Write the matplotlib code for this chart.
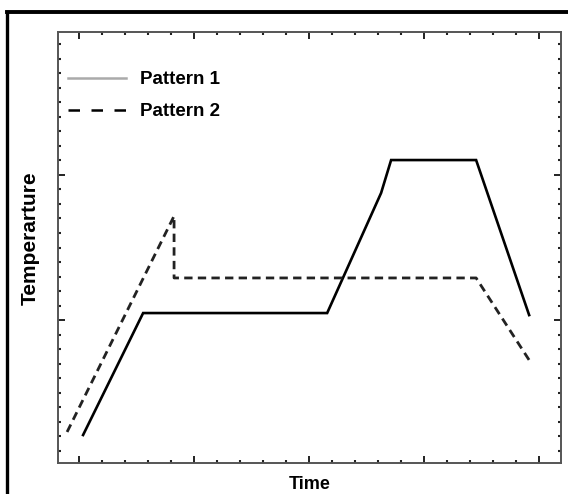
# plot.py - temperature patterns over time

# 1. Imports
import matplotlib
matplotlib.use("Agg")
import matplotlib.pyplot as plt
from matplotlib.lines import Line2D
from matplotlib.ticker import MultipleLocator

# 2. Data (arbitrary units)
pattern1_time = [0.035, 0.557, 2.157, 2.626, 2.713, 3.452, 3.913]
pattern1_temp = [0.207, 1.048, 1.048, 1.876, 2.103, 2.103, 1.034]

pattern2_time = [-0.104, 0.826, 0.826, 3.452, 3.913]
pattern2_temp = [0.228, 1.717, 1.290, 1.290, 0.724]

series_labels = ["Pattern 1", "Pattern 2"]

# 3. Figure setup
plt.rcParams["font.family"] = ["Liberation Sans", "DejaVu Sans"]
plt.rcParams["font.weight"] = "bold"

fig = plt.figure(figsize=(5.68, 4.94), dpi=100)
ax = fig.add_axes([58 / 568, 31 / 494, 503 / 568, 431 / 494])

# 4. Lines
ax.plot(pattern1_time, pattern1_temp, color="black", lw=1.9, solid_joinstyle="miter")
ax.plot(pattern2_time, pattern2_temp, color="#222222", lw=2.0, dashes=[3.0, 1.9])

# 5. Axes look
ax.set_xlim(-0.183, 4.19)
ax.set_ylim(0.014, 2.986)
ax.xaxis.set_major_locator(MultipleLocator(1))
ax.xaxis.set_minor_locator(MultipleLocator(0.2))
ax.yaxis.set_major_locator(MultipleLocator(1))
ax.yaxis.set_minor_locator(MultipleLocator(0.1))
ax.tick_params(which="both", direction="in", top=True, right=True,
               labelbottom=False, labelleft=False, color="#222222")
ax.tick_params(which="major", length=5, width=1.4)
ax.tick_params(which="minor", length=2.2, width=1.5)
for sp in ax.spines.values():
    sp.set_linewidth(1.4)
    sp.set_color("#555555")

ax.set_xlabel("Time", fontsize=13, fontweight="bold", labelpad=9)
ax.set_ylabel("Temperarture", fontsize=15, fontweight="bold")
ax.yaxis.set_label_coords(-0.037, 0.522)

# 6. Legend (first handle is drawn gray in the original)
handles = [
    Line2D([], [], color="#aaaaaa", lw=1.8),
    Line2D([], [], color="black", lw=1.8, dashes=[4.6, 4.6]),
]
ax.legend(handles, series_labels, loc="upper left", bbox_to_anchor=(0.02, 0.909),
          frameon=False, handlelength=3.1, handletextpad=0.75,
          labelspacing=0.78, borderpad=0, borderaxespad=0,
          prop={"weight": "bold", "size": 13.5})

# 7. Outer frame (only top and left edges show)
fig.add_artist(Line2D([7 / 568, 7 / 568], [0, 1 - 12 / 494], color="black", lw=2.4,
                      transform=fig.transFigure))
fig.add_artist(Line2D([7 / 568, 1], [1 - 12 / 494, 1 - 12 / 494], color="black", lw=2.8,
                      transform=fig.transFigure))

# 8. Save
fig.savefig("out.png", dpi=100)
print("Saved out.png")
